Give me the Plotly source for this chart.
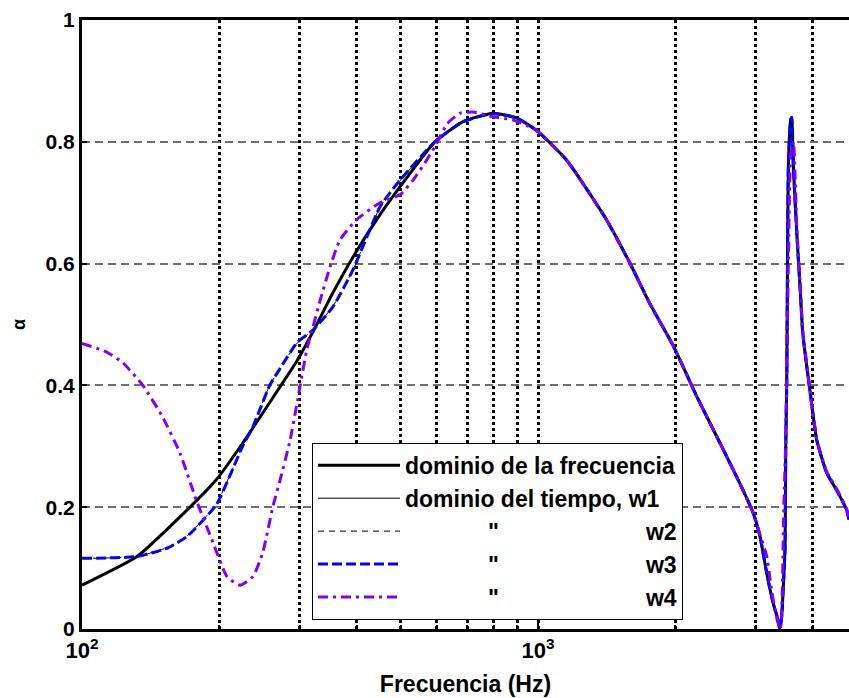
import plotly.graph_objects as go

# ---- data ----
f_freq = [100, 132, 164, 197, 225, 272, 296, 321, 355, 393, 450, 498, 594, 685, 796, 899, 992,
          1155, 1413, 1590, 1757, 1983, 2232, 2508, 2771, 2966, 3068, 3173, 3277, 3360, 3390,
          3423, 3451, 3481, 3494, 3511, 3522, 3540, 3583, 3601, 3631, 3694, 3755, 3807, 3885,
          3950, 4086, 4298, 4519, 4753, 4808]
a_freq = [0.072, 0.119, 0.184, 0.245, 0.305, 0.398, 0.440, 0.488, 0.552, 0.611, 0.680, 0.726,
          0.800, 0.833, 0.847, 0.839, 0.819, 0.770, 0.672, 0.601, 0.535, 0.464, 0.381, 0.305,
          0.239, 0.190, 0.152, 0.092, 0.043, 0.015, 0.000, 0.020, 0.070, 0.130, 0.300, 0.400,
          0.560, 0.760, 0.836, 0.840, 0.759, 0.650, 0.562, 0.486, 0.431, 0.390, 0.310, 0.256,
          0.228, 0.195, 0.180]
a_w1 = [0.073, 0.119, 0.183, 0.245, 0.306, 0.398, 0.440, 0.488, 0.551, 0.611, 0.681, 0.727,
        0.800, 0.833, 0.846, 0.839, 0.819, 0.770, 0.672, 0.601, 0.535, 0.464, 0.381, 0.305,
        0.239, 0.190, 0.152, 0.092, 0.043, 0.015, 0.000, 0.020, 0.070, 0.130, 0.300, 0.400,
        0.560, 0.760, 0.836, 0.840, 0.759, 0.650, 0.562, 0.486, 0.431, 0.390, 0.310, 0.256,
        0.228, 0.195, 0.180]

f_w3 = [100, 132, 154, 170, 197, 225, 237, 258, 272, 296, 321, 355, 393, 450, 498, 594, 685,
        796, 899, 992, 1155, 1413, 1590, 1757, 1983, 2232, 2508, 2771, 2966, 3068, 3173, 3277,
        3360, 3390, 3423, 3451, 3481, 3494, 3511, 3522, 3540, 3583, 3601, 3631, 3694, 3755,
        3807, 3885, 3950, 4086, 4298, 4519, 4753, 4808]
a_w3 = [0.116, 0.119, 0.133, 0.152, 0.204, 0.300, 0.332, 0.400, 0.428, 0.470, 0.491, 0.529,
        0.590, 0.693, 0.737, 0.800, 0.833, 0.846, 0.839, 0.819, 0.770, 0.672, 0.601, 0.535,
        0.464, 0.381, 0.305, 0.239, 0.190, 0.152, 0.092, 0.043, 0.015, 0.000, 0.020, 0.070,
        0.130, 0.300, 0.400, 0.560, 0.760, 0.836, 0.840, 0.759, 0.650, 0.562, 0.486, 0.431,
        0.390, 0.310, 0.256, 0.228, 0.195, 0.180]
a_w2 = [0.116, 0.119, 0.134, 0.153, 0.205, 0.301, 0.333, 0.400, 0.428, 0.469, 0.491, 0.530,
        0.590, 0.692, 0.736, 0.800, 0.833, 0.846, 0.839, 0.819, 0.770, 0.672, 0.601, 0.535,
        0.464, 0.381, 0.305, 0.239, 0.190, 0.152, 0.092, 0.043, 0.015, 0.000, 0.020, 0.070,
        0.130, 0.300, 0.400, 0.560, 0.760, 0.836, 0.840, 0.759, 0.650, 0.562, 0.486, 0.431,
        0.390, 0.310, 0.256, 0.228, 0.195, 0.180]

f_w4 = [100, 113, 123, 136, 150, 164, 178, 194, 208, 222, 237, 249, 262, 272, 286, 297, 311,
        321, 333, 350, 368, 400, 450, 498, 532, 570, 594, 633, 675, 720, 796, 880, 992, 1155,
        1413, 1590, 1757, 1983, 2232, 2508, 2771, 2966, 3068, 3173, 3230, 3300, 3360, 3400,
        3430, 3460, 3490, 3511, 3540, 3583, 3631, 3694, 3755, 3807, 3885, 3950, 4086, 4298,
        4519, 4753, 4808]
a_w4 = [0.469, 0.455, 0.437, 0.400, 0.349, 0.289, 0.212, 0.141, 0.086, 0.072, 0.086, 0.125,
        0.200, 0.245, 0.310, 0.376, 0.458, 0.496, 0.540, 0.595, 0.639, 0.672, 0.700, 0.713,
        0.737, 0.770, 0.792, 0.830, 0.847, 0.849, 0.841, 0.836, 0.819, 0.770, 0.672, 0.601,
        0.535, 0.464, 0.381, 0.305, 0.239, 0.190, 0.155, 0.120, 0.080, 0.035, 0.010, 0.000,
        0.050, 0.200, 0.300, 0.420, 0.600, 0.780, 0.800, 0.660, 0.570, 0.490, 0.435, 0.392,
        0.312, 0.258, 0.230, 0.197, 0.182]

x_major = [100, 1000]
x_major_text = ["10<sup>2</sup>", "10<sup>3</sup>"]
x_minor = [200, 300, 400, 500, 600, 700, 800, 900, 2000, 3000, 4000]
y_ticks = [0, 0.2, 0.4, 0.6, 0.8, 1]
y_ticktext = ["0", "0.2", "0.4", "0.6", "0.8", "1"]

NB = "\u00a0"
names = [
    "dominio de la frecuencia",
    "dominio del tiempo, w1",
    NB * 13 + '"' + NB * 23 + "w2",
    NB * 13 + '"' + NB * 23 + "w3",
    NB * 13 + '"' + NB * 23 + "w4",
]

FONT = "Liberation Sans, Arial, sans-serif"
SM = 0.5

fig = go.Figure()
fig.add_trace(go.Scatter(x=f_freq, y=a_freq, mode="lines", name=names[0], legendgroup="a",
                         line=dict(color="black", width=3, shape="spline", smoothing=SM)))
fig.add_trace(go.Scatter(x=f_freq, y=a_w1, mode="lines", name=names[1], legendgroup="b",
                         line=dict(color="black", width=1, shape="spline", smoothing=SM)))
fig.add_trace(go.Scatter(x=f_w3, y=a_w2, mode="lines", name=names[2], legendgroup="c",
                         line=dict(color="black", width=1, dash="6px,5px",
                                   shape="spline", smoothing=SM)))
fig.add_trace(go.Scatter(x=f_w3, y=a_w3, mode="lines", name=names[3], legendgroup="d",
                         line=dict(color="#0000ff", width=3, dash="10px,4px",
                                   shape="spline", smoothing=SM)))
fig.add_trace(go.Scatter(x=f_w4, y=a_w4, mode="lines", name=names[4], legendgroup="e",
                         line=dict(color="#8000ff", width=3, dash="10px,5px,3px,5px",
                                   shape="spline", smoothing=SM)))

fig.update_layout(
    width=849, height=698,
    margin=dict(l=82, r=0, t=20, b=69),
    plot_bgcolor="white", paper_bgcolor="white",
    font=dict(family=FONT, color="black", size=18),
    legend=dict(
        x=0.2999, y=0.015, xanchor="left", yanchor="bottom",
        bgcolor="white", bordercolor="black", borderwidth=1,
        font=dict(family=FONT, size=23, color="black", weight="bold"),
        traceorder="grouped", tracegroupgap=0, itemwidth=82,
    ),
    showlegend=True,
)

fig.update_xaxes(
    type="log", range=[2, 3.682],
    tickmode="array", tickvals=x_major, ticktext=x_major_text,
    tickfont=dict(family=FONT, size=22, weight="bold"),
    showgrid=True, gridcolor="black", gridwidth=3, griddash="dot",
    ticks="inside", ticklen=6, tickwidth=2, tickcolor="black",
    minor=dict(tickvals=x_minor, showgrid=True, gridcolor="black", gridwidth=3,
               griddash="dot", ticks="inside", ticklen=4, tickcolor="black", tickwidth=2),
    showline=True, linecolor="black", linewidth=3, mirror=True,
    zeroline=False,
    title=dict(text="Frecuencia (Hz)", font=dict(family=FONT, size=23, weight="bold"),
               standoff=14),
)
fig.update_yaxes(
    range=[0, 1],
    tickmode="array", tickvals=y_ticks, ticktext=y_ticktext,
    tickfont=dict(family=FONT, size=21, weight="bold"),
    showgrid=True, gridcolor="#707070", gridwidth=1.5, griddash="8px,5px",
    ticks="inside", ticklen=5, tickwidth=2, tickcolor="black",
    showline=True, linecolor="black", linewidth=3,
    zeroline=False,
    title=dict(text="α", font=dict(family=FONT, size=18, weight="bold"), standoff=16),
)

fig.write_html("out.html")
